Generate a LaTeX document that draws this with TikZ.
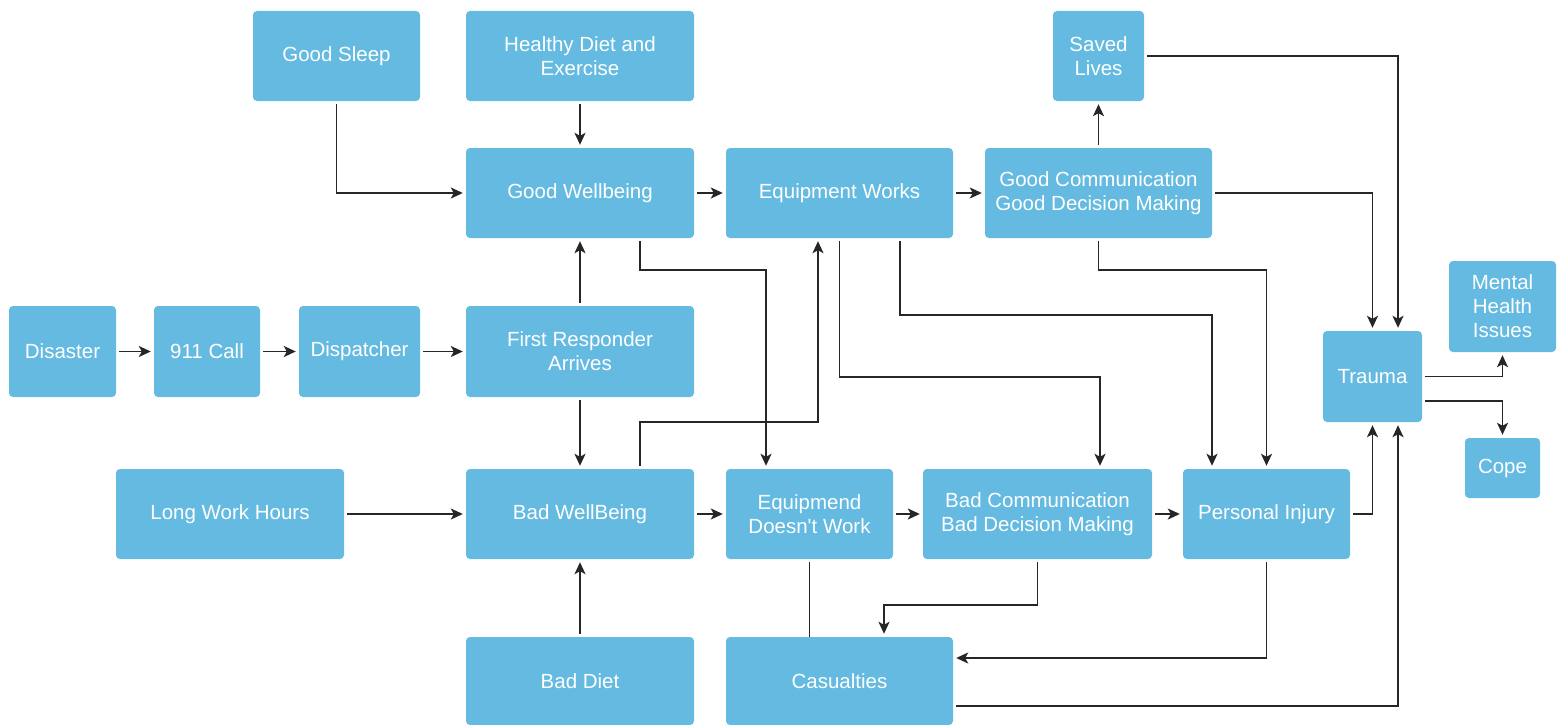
\documentclass[tikz,border=0pt]{standalone}
\usepackage{fontspec}
\setmainfont{Liberation Sans}
\usetikzlibrary{arrows.meta,calc}
\definecolor{boxblue}{HTML}{64BAE0}
\definecolor{linegray}{HTML}{262626}
\tikzset{
  box/.style={fill=boxblue, draw=none, rounded corners=4pt, inner sep=2pt,
    text=white, align=center, font=\fontsize{20.5}{24}\selectfont},
  conn/.style={draw=linegray, line width=1.8pt, shorten <=3pt, shorten >=3pt},
  arr/.style={conn, -{Stealth[length=12pt,width=11pt,inset=3pt]}},
}
\newcommand{\bx}[6]{% name, left, top, right, bottom, text
  \node[box, minimum width={#4-#2}, minimum height={#5-#3}] (#1) at ({(#2+#4)/2},{(#3+#5)/2}) {#6};}
\begin{document}
\begin{tikzpicture}[x=1pt,y=-1pt]
\useasboundingbox (0,0) rectangle (1561,725);
\bx{gsleep}{253}{11}{420}{101}{Good Sleep}
\bx{hdiet}{466}{11}{694}{101}{Healthy Diet and\\Exercise}
\bx{saved}{1053}{11}{1144}{101}{Saved\\Lives}
\bx{gwell}{466}{148}{694}{238}{Good Wellbeing}
\bx{eqw}{726}{148}{953}{238}{Equipment Works}
\bx{gcomm}{985}{148}{1212}{238}{Good Communication\\Good Decision Making}
\bx{disaster}{9}{306}{116}{397}{Disaster}
\bx{call}{154}{306}{260}{397}{911 Call}
\bx{dispatch}{299}{306}{420}{397}{Dispatcher}
\bx{fra}{466}{306}{694}{397}{First Responder\\Arrives}
\bx{mhi}{1449}{261}{1556}{352}{Mental\\Health\\Issues}
\bx{trauma}{1323}{331}{1422}{422}{Trauma}
\bx{lwh}{116}{469}{344}{559}{Long Work Hours}
\bx{bwell}{466}{469}{694}{559}{Bad WellBeing}
\bx{eqd}{726}{469}{893}{559}{Equipmend\\Doesn\textquotesingle t Work}
\bx{bcomm}{923}{469}{1152}{559}{Bad Communication\\Bad Decision Making}
\bx{pinj}{1183}{469}{1350}{559}{Personal Injury}
\bx{cope}{1465}{438}{1540}{498}{Cope}
\bx{bdiet}{466}{637}{694}{725}{Bad Diet}
\bx{cas}{726}{637}{953}{725}{Casualties}

\draw[arr] (disaster) -- (call);
\draw[arr] (call) -- (dispatch);
\draw[arr] (dispatch) -- (fra);
\draw[arr] (gsleep.south) |- (gwell.west);
\draw[arr] (hdiet) -- (gwell);
\draw[arr] (gwell) -- (eqw);
\draw[arr] (eqw) -- (gcomm);
\draw[arr] (gcomm) -- (saved);
\draw[arr] (saved.east) -| ([xshift=25.5pt]trauma.north);
\draw[arr] (gcomm.east) -| (trauma.north);
\draw[arr] (fra) -- (gwell);
\draw[arr] (fra) -- (bwell);
\draw[arr] ([xshift=60pt]gwell.south) -- (640,270) -| ([xshift=-43.5pt]eqd.north);
\draw[arr] ([xshift=60pt]bwell.north) -- (640,422) -| ([xshift=-21.5pt]eqw.south);
\draw[arr] (eqw.south) -- (839.5,377) -| ([xshift=62.5pt]bcomm.north);
\draw[arr] ([xshift=60.5pt]eqw.south) -- (900,315) -| ([xshift=-54.5pt]pinj.north);
\draw[arr] (gcomm.south) -- (1098.5,270) -| (pinj.north);
\draw[arr] (lwh) -- (bwell);
\draw[arr] (bdiet) -- (bwell);
\draw[arr] (bwell) -- (eqd);
\draw[arr] (eqd) -- (bcomm);
\draw[arr] (bcomm) -- (pinj);
\draw[arr] (pinj.east) -| (trauma.south);
\draw[conn, shorten >=0pt] (eqd.south) -- (eqd.south |- cas.north);
\draw[arr] (bcomm.south) -- (1037.5,605) -| ([xshift=44.5pt]cas.north);
\draw[arr] (pinj.south) |- ([yshift=23pt]cas.east);
\draw[arr] ([yshift=-25pt]cas.east) -| ([xshift=25.5pt]trauma.south);
\draw[arr] (trauma.east) -| (mhi.south);
\draw[arr] ([yshift=-24.5pt]trauma.east) -| (cope.north);
\end{tikzpicture}
\end{document}
